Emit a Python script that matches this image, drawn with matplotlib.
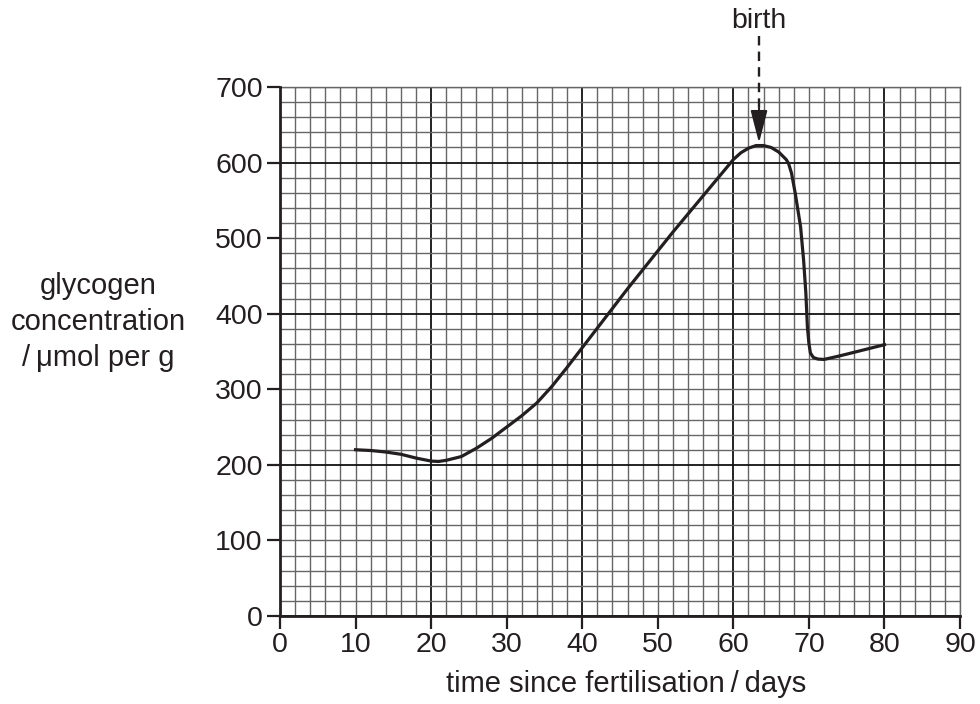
import numpy as np
import matplotlib
matplotlib.use('Agg')
from matplotlib import pyplot as plt

plt.rcParams['font.family'] = ['Liberation Sans', 'DejaVu Sans']

# curve (days, umol per g)
days = [10, 12, 14, 16, 18, 20, 21, 22, 24, 26, 28, 30, 32, 34, 36, 38, 40, 42, 44,
        46, 48, 50, 52, 54, 56, 58, 60, 61, 62, 63, 64, 65, 66, 66.5, 67.0, 67.3, 67.7,
        68.2, 68.9, 69.3, 69.6, 69.8, 70.0, 70.2, 70.6, 71.2, 72, 74, 76, 78, 80]
glycogen = [220, 219, 217, 214, 209, 205, 204.5, 206, 211, 222, 235, 250, 265, 282,
            304, 329, 355, 381, 407, 433, 458, 483, 508, 532, 556, 580, 604, 613, 619,
            622.5, 622.5, 620, 614, 609, 604, 599, 586, 559, 515, 471, 427, 383, 361,
            348, 342, 340, 339.5, 344, 349, 354, 359]
birth_day = 63.4
x_ticks = list(range(0, 91, 10))
y_ticks = list(range(0, 701, 100))

ink = '#231f20'
fs = 21

fig = plt.figure(figsize=(9.8, 7.04), dpi=100)
ax = fig.add_axes([280 / 980, 1 - 616 / 704, 680 / 980, 529 / 704])
ax.set_xlim(0, 90)
ax.set_ylim(0, 700)

# graph paper: fine squares every 2 days / 20 units, darker every 20 days / 200 units
for gx in np.arange(0, 91, 2):
    dark = gx % 20 == 0
    ax.axvline(gx, color='#111111' if dark else '#666666', lw=1.3 if dark else 1.0, zorder=1)
for gy in np.arange(0, 701, 20):
    dark = gy % 200 == 0
    ax.axhline(gy, color='#111111' if dark else '#666666', lw=1.3 if dark else 1.0, zorder=1)

ax.plot(days, glycogen, color=ink, lw=2.3, zorder=3, solid_joinstyle='round')

# birth arrow
ax.plot([birth_day, birth_day], [768, 670], color=ink, lw=1.7, ls=(0, (4, 2.6)),
        clip_on=False, zorder=4)
ax.annotate('', xy=(birth_day, 626), xytext=(birth_day, 672),
            arrowprops=dict(arrowstyle='-|>,head_length=1.0,head_width=0.26',
                            mutation_scale=20, color=ink, lw=1.5, shrinkA=0, shrinkB=0),
            annotation_clip=False, zorder=4)
ax.text(birth_day, 787, 'birth', ha='center', va='center', fontsize=20.5, color=ink,
        clip_on=False)

ax.set_xticks(x_ticks)
ax.set_yticks(y_ticks)
ax.tick_params(axis='both', direction='out', length=9.5, width=1.6, colors=ink,
               labelsize=20.5, labelcolor=ink)
ax.tick_params(axis='x', pad=2)
ax.tick_params(axis='y', pad=3)
for side in ['left', 'bottom']:
    ax.spines[side].set_linewidth(2.0)
    ax.spines[side].set_color(ink)
    ax.spines[side].set_zorder(5)
for side in ['top', 'right']:
    ax.spines[side].set_linewidth(1.0)
    ax.spines[side].set_color('#666666')

fig.text(98 / 980, 1 - 322 / 704, 'glycogen\nconcentration\n/\u2009\u03bcmol per g',
         ha='center', va='center', multialignment='center', fontsize=fs,
         linespacing=1.36, color=ink)
fig.text(626 / 980, 1 - 684 / 704, 'time since fertilisation\u2009/\u2009days',
         ha='center', va='center', fontsize=fs, color=ink)

fig.savefig('out.png', dpi=100)
